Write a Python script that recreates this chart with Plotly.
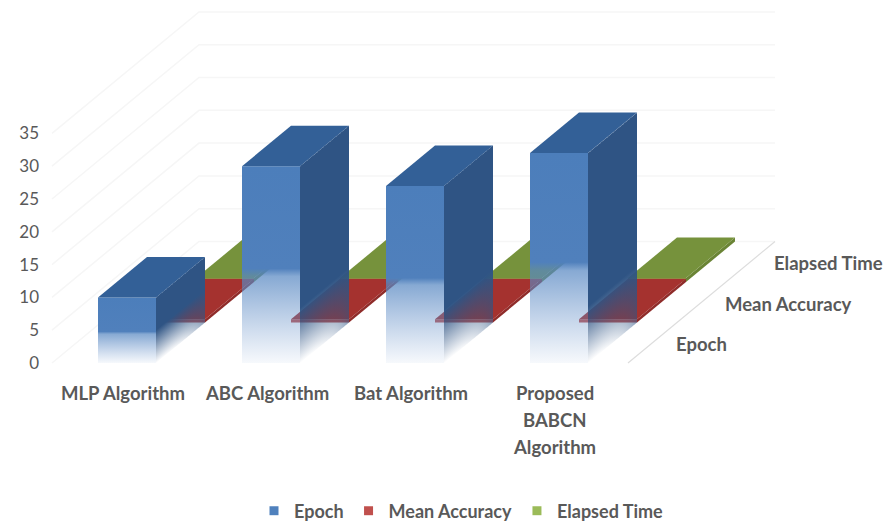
import plotly.graph_objects as go

# Chart data
CATEGORIES = [["MLP Algorithm"], ["ABC Algorithm"], ["Bat Algorithm"], ["Proposed", "BABCN", "Algorithm"]]
SERIES_NAMES = ["Epoch", "Mean Accuracy", "Elapsed Time"]
EPOCH = [10, 30, 27, 32]
MEAN_ACCURACY = [0.5, 0.5, 0.5, 0.5]
ELAPSED_TIME = [0.6, 0.6, 0.6, 0.6]
VALUE_TICKS = [0, 5, 10, 15, 20, 25, 30, 35]

# Oblique projection: one depth row shifts right and up by these axis amounts
PX_PER_CAT = 144.0
PX_PER_VAL = 6.56
ROW_DX = 49 / PX_PER_CAT
ROW_DZ = 40.5 / PX_PER_VAL
ROWS = 3
BAR_GAP = 46 / PX_PER_CAT
BAR_W = 58 / PX_PER_CAT

FONT = "Lato"
TEXT = "#595959"
SIDE_FADE = [0.5, 0.28, 0.3, 0.27]
FRONT_FADE = 0.48


def project(x, depth, z):
    return x + depth * ROW_DX, z + depth * ROW_DZ


def poly(points, **kw):
    xs = [p[0] for p in points] + [points[0][0]]
    ys = [p[1] for p in points] + [points[0][1]]
    return go.Scatter(x=xs, y=ys, mode="lines", line=dict(width=0), fill="toself",
                      hoverinfo="skip", showlegend=False, **kw)


def line(points, color, width=1):
    return go.Scatter(x=[p[0] for p in points], y=[p[1] for p in points], mode="lines",
                      line=dict(color=color, width=width), hoverinfo="skip", showlegend=False)


fig = go.Figure()

# Back wall, side wall and floor edge
for v in VALUE_TICKS:
    pts = [project(0, 0, v), project(0, ROWS, v), project(len(CATEGORIES), ROWS, v)]
    fig.add_trace(line(pts, "#f6f6f6", 1.5))
fig.add_trace(line([project(len(CATEGORIES), 0, 0), project(len(CATEGORIES), ROWS, 0)], "#dddddd", 1.2))


def flat_box(i, row, value, front, side, top):
    x0 = i + BAR_GAP
    x1 = x0 + BAR_W
    d0, d1 = row, row + 1
    fig.add_trace(poly([project(x0, d0, 0), project(x1, d0, 0), project(x1, d0, value), project(x0, d0, value)],
                       fillcolor=front))
    fig.add_trace(poly([project(x1, d0, 0), project(x1, d1, 0), project(x1, d1, value), project(x1, d0, value)],
                       fillcolor=side))
    fig.add_trace(poly([project(x0, d0, value), project(x1, d0, value), project(x1, d1, value), project(x0, d1, value)],
                       fillcolor=top))


def epoch_bar(i, value):
    x0 = i + BAR_GAP
    x1 = x0 + BAR_W
    # Front face, fading out towards the floor (colour scale runs bottom to top)
    fig.add_trace(poly(
        [project(x0, 0, 0), project(x1, 0, 0), project(x1, 0, value), project(x0, 0, value)],
        fillgradient=dict(type="vertical", colorscale=[
            [0, "rgba(110,150,205,0.06)"], [FRONT_FADE - 0.04, "rgba(88,136,194,0.72)"],
            [FRONT_FADE, "rgba(80,128,188,1)"], [1, "rgba(76,126,187,1)"]])))
    # Side face, built from one-pixel strips; the fade is weaker towards the rear edge
    strips = int(round(ROW_DX * PX_PER_CAT))
    for s in range(strips):
        a = s / strips
        b = (s + 1) / strips
        fig.add_trace(poly(
            [project(x1, a, 0), project(x1, b, 0), project(x1, b, value), project(x1, a, value)],
            fillgradient=dict(type="vertical", colorscale=[
                [0, f"rgba(47,84,132,{0.6 * a ** 3:.3f})"], [SIDE_FADE[i], "rgba(47,84,132,1)"],
                [1, "rgba(47,84,132,1)"]])))
    # Top face
    fig.add_trace(poly([project(x0, 0, value), project(x1, 0, value), project(x1, 1, value), project(x0, 1, value)],
                       fillcolor="#336097"))


for i, v in enumerate(ELAPSED_TIME):
    flat_box(i, 2, v, "#8aa84c", "#6a8435", "#76923c")
for i, v in enumerate(MEAN_ACCURACY):
    flat_box(i, 1, v, "#c0504d", "#8f2c2a", "#a5322f")
for i, v in enumerate(EPOCH):
    epoch_bar(i, v)

# Legend entries
for name, color in zip(SERIES_NAMES, ["#4f81bd", "#c0504d", "#9bbb59"]):
    fig.add_trace(go.Scatter(x=[None], y=[None], mode="markers", name=name,
                             marker=dict(symbol="square", size=9, color=color)))

annotations = []
# Category labels, one annotation per line for the wide line spacing
for i, lines in enumerate(CATEGORIES):
    for k, text in enumerate(lines):
        annotations.append(dict(x=i + 0.49, y=-30 / PX_PER_VAL, xref="x", yref="y", text=text, showarrow=False,
                                yshift=-27 * k, font=dict(family=FONT, size=18.5, color=TEXT, weight="bold")))
# Depth axis labels
for r, name in enumerate(SERIES_NAMES):
    px, py = project(len(CATEGORIES), r + 0.5, 0)
    annotations.append(dict(x=px, y=py, xref="x", yref="y", text=name, showarrow=False, xanchor="left",
                            xshift=21, yshift=-1.5, font=dict(family=FONT, size=18.5, color=TEXT, weight="bold")))

width, height = 887, 524
left = 40
origin_px, baseline_px = 52, 363
fig.update_layout(
    width=width, height=height, autosize=False,
    margin=dict(l=left, r=0, t=0, b=0, autoexpand=False),
    paper_bgcolor="white", plot_bgcolor="white",
    annotations=annotations,
    legend=dict(orientation="h", x=(254 - left) / (width - left), xanchor="left", y=1 - 511 / height, yanchor="middle",
                font=dict(family=FONT, size=18, color=TEXT, weight="bold"), bgcolor="rgba(0,0,0,0)"),
    xaxis=dict(range=[(left - origin_px) / PX_PER_CAT, (width - origin_px) / PX_PER_CAT],
               visible=False, fixedrange=True),
    yaxis=dict(range=[(baseline_px - height) / PX_PER_VAL, baseline_px / PX_PER_VAL],
               tickmode="array", tickvals=VALUE_TICKS, showgrid=False, zeroline=False, showline=False,
               ticks="", tickfont=dict(family=FONT, size=17, color=TEXT), fixedrange=True),
)
fig.write_html("out.html", config={"displayModeBar": False})
